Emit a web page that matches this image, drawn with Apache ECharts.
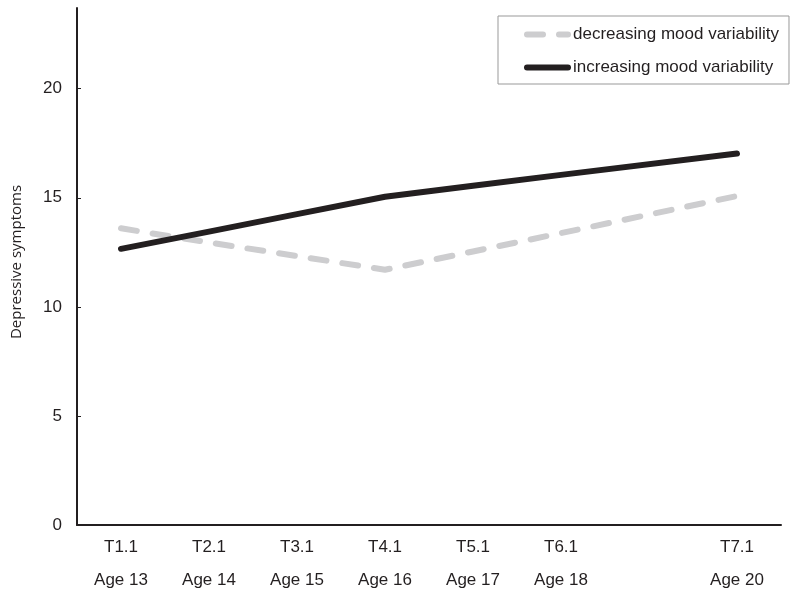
<!DOCTYPE html>
<html>
<head>
<meta charset="utf-8">
<script src="https://cdn.jsdelivr.net/npm/echarts@6/dist/echarts.min.js"></script>
<style>
html,body{margin:0;padding:0;background:#fff;}
#chart{width:793px;height:592px;}
</style>
</head>
<body>
<div id="chart"></div>
<script>
const waveLabels = ['T1.1', 'T2.1', 'T3.1', 'T4.1', 'T5.1', 'T6.1', '', 'T7.1'];
const ageLabels = ['Age 13', 'Age 14', 'Age 15', 'Age 16', 'Age 17', 'Age 18', '', 'Age 20'];
const decreasingValues = [13.6, 12.95, 12.33, 11.7, 12.54, 13.38, null, 15.08];
const increasingValues = [12.66, 13.45, 14.25, 15.05, 15.55, 16.05, null, 17.03];
const seriesNames = ['decreasing mood variability', 'increasing mood variability'];
const yTicks = [0, 5, 10, 15, 20];

const categories = waveLabels.map((w, i) => w ? w + '\n' + ageLabels[i] : '');
const ink = '#231f20';
const font = 'Liberation Sans, Arial, sans-serif';

const chart = echarts.init(document.getElementById('chart'), null, {renderer: 'canvas'});
chart.setOption({
  animation: false,
  backgroundColor: '#fff',
  grid: {left: 77, right: 12, top: 8, bottom: 67, containLabel: false, outerBoundsMode: 'none'},
  xAxis: {
    type: 'category',
    data: categories,
    boundaryGap: true,
    axisLine: {lineStyle: {color: ink, width: 2}},
    axisTick: {inside: true, length: 4, alignWithLabel: true, lineStyle: {color: ink, width: 1}},
    axisLabel: {color: ink, fontFamily: font, fontSize: 17, lineHeight: 33, margin: 6, interval: 0}
  },
  yAxis: {
    type: 'value',
    min: 0, max: 23.7, interval: 5,
    axisLine: {show: true, lineStyle: {color: ink, width: 2}},
    axisTick: {show: true, inside: true, length: 4, lineStyle: {color: ink, width: 1}},
    axisLabel: {
      color: ink, fontFamily: font, fontSize: 17, margin: 15,
      showMaxLabel: false,
      formatter: v => yTicks.indexOf(v) >= 0 ? String(v) : ''
    },
    splitLine: {show: false}
  },
  legend: {
    orient: 'vertical',
    left: 498, top: 16,
    padding: [10, 10, 8, 26],
    borderColor: '#999', borderWidth: 1,
    itemWidth: 41, itemHeight: 18, itemGap: 16,
    itemStyle: {opacity: 0},
    lineStyle: {width: 6},
    textStyle: {color: ink, fontFamily: font, fontSize: 17},
    data: seriesNames
  },
  graphic: [{
    type: 'text',
    x: 17, y: 262, rotation: Math.PI / 2,
    style: {text: 'Depressive symptoms', fill: ink, font: '15px "Open Sans", "Noto Sans", sans-serif', align: 'center', verticalAlign: 'middle'}
  }],
  series: [
    {
      name: seriesNames[0], type: 'line', data: decreasingValues, connectNulls: true,
      symbol: 'none', color: '#cdcdcf',
      lineStyle: {color: '#cdcdcf', width: 6, type: [16, 16], cap: 'round', join: 'round'}
    },
    {
      name: seriesNames[1], type: 'line', data: increasingValues, connectNulls: true,
      symbol: 'none', color: ink,
      lineStyle: {color: ink, width: 6, cap: 'round', join: 'round'}
    }
  ]
});
</script>
</body>
</html>
